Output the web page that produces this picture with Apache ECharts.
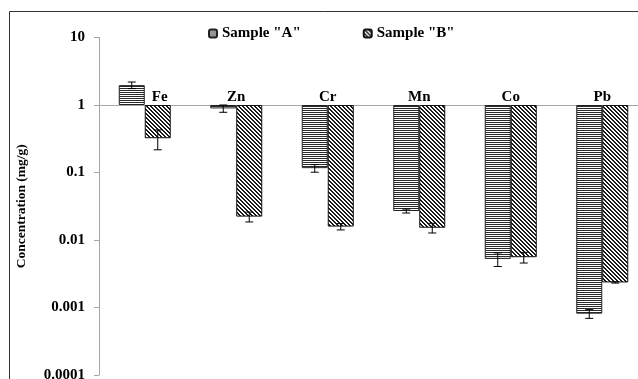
<!DOCTYPE html>
<html>
<head>
<meta charset="utf-8">
<script src="https://cdn.jsdelivr.net/npm/echarts@6/dist/echarts.min.js"></script>
<style>
html,body{margin:0;padding:0;background:#fff;}
#chart{width:638px;height:379px;}
</style>
</head>
<body>
<div id="chart"></div>
<script>
// ---- data ----
const categories = ['Fe', 'Zn', 'Cr', 'Mn', 'Co', 'Pb'];
const sampleA = [1.97, 0.89, 0.116, 0.0269, 0.00525, 0.00081];
const errA    = [0.22, 0.11, 0.015, 0.0018, 0.0012, 0.00012];
const sampleB = [0.322, 0.0222, 0.0158, 0.0152, 0.00556, 0.00235];
const errB    = [0.105, 0.0037, 0.0017, 0.0025, 0.001, 0.00005];
const yTickLabels = ['0.0001', '0.001', '0.01', '0.1', '1', '10'];
const seriesNames = ['Sample "A"', 'Sample "B"'];

// ---- patterns ----
function hPattern() {
  const c = document.createElement('canvas');
  c.width = 4; c.height = 2;
  const g = c.getContext('2d');
  g.fillStyle = '#ffffff'; g.fillRect(0, 0, 4, 2);
  g.fillStyle = '#2a2a2a'; g.fillRect(0, 0, 4, 1);
  return c;
}
function dPattern() {
  const c = document.createElement('canvas');
  c.width = 4; c.height = 4;
  const g = c.getContext('2d');
  g.fillStyle = '#ffffff'; g.fillRect(0, 0, 4, 4);
  g.fillStyle = '#1a1a1a';
  for (let i = 0; i < 4; i++) {
    g.fillRect(i, i, 1, 1);
    g.fillRect((i + 1) % 4, i, 1, 1);
  }
  return c;
}

const FONT = 'Liberation Serif';
const BAR_W = 26;
const chart = echarts.init(document.getElementById('chart'), null, {renderer: 'canvas'});

function errSeries(vals, errs, side) {
  return {
    type: 'custom',
    z: 10,
    silent: true,
    data: vals.map((v, i) => [i, v, errs[i]]),
    renderItem: function (params, api) {
      const i = api.value(0), v = api.value(1), e = api.value(2);
      const top = api.coord([i, v + e]);
      const bot = api.coord([i, v - e]);
      const x = top[0] + side * BAR_W / 2;
      const cap = 4;
      const st = {stroke: '#000', lineWidth: 1};
      return {
        type: 'group',
        children: [
          {type: 'line', shape: {x1: x, y1: top[1], x2: x, y2: bot[1]}, style: st},
          {type: 'line', shape: {x1: x - cap, y1: top[1], x2: x + cap, y2: top[1]}, style: st},
          {type: 'line', shape: {x1: x - cap, y1: bot[1], x2: x + cap, y2: bot[1]}, style: st}
        ]
      };
    }
  };
}

const option = {
  backgroundColor: '#fff',
  animation: false,
  graphic: [{
    type: 'rect', z: -1, silent: true,
    shape: {x: 9.5, y: 11.5, width: 700, height: 420},
    style: {fill: 'none', stroke: '#333', lineWidth: 1}
  }],
  legend: {
    left: 203, top: 21,
    itemWidth: 8, itemHeight: 8, itemGap: 62,
    textStyle: {fontFamily: FONT, fontWeight: 'bold', fontSize: 15, color: '#000'},
    data: seriesNames
  },
  grid: {left: 99, top: 37.5, bottom: 4, right: -10, containLabel: false, outerBoundsMode: 'none'},
  xAxis: {
    type: 'category',
    position: 'top',
    offset: -67.5,
    data: categories.map((c, i) => i === 0 ? {value: c, textStyle: {padding: [0, 0, 0, 30]}} : c),
    axisLine: {lineStyle: {color: '#a6a6a6', width: 1}},
    axisTick: {inside: true, length: 4, lineStyle: {color: '#a6a6a6'}},
    axisLabel: {interval: 0, margin: 0, fontFamily: FONT, fontWeight: 'bold', fontSize: 15, color: '#000'},
    splitLine: {show: false}
  },
  yAxis: {
    type: 'log',
    logBase: 10,
    min: 0.0001,
    max: 10,
    name: 'Concentration (mg/g)',
    nameLocation: 'middle',
    nameGap: 70,
    nameRotate: 90,
    nameTextStyle: {fontFamily: FONT, fontWeight: 'bold', fontSize: 13.5, color: '#000'},
    axisLine: {show: true, lineStyle: {color: '#a6a6a6', width: 1}},
    axisTick: {show: true, length: 5, lineStyle: {color: '#a6a6a6'}},
    axisLabel: {
      margin: 14,
      fontFamily: FONT, fontWeight: 'bold', fontSize: 15, color: '#000',
      formatter: v => yTickLabels[Math.round(Math.log10(v)) + 4]
    },
    splitLine: {show: false},
    minorTick: {show: false}
  },
  series: [
    {
      name: seriesNames[0], type: 'bar', data: sampleA,
      barWidth: BAR_W, barGap: '0%',
      itemStyle: {color: {image: hPattern(), repeat: 'repeat'}, borderColor: '#222', borderWidth: 1}
    },
    {
      name: seriesNames[1], type: 'bar', data: sampleB,
      barWidth: BAR_W, barGap: '0%',
      itemStyle: {color: {image: dPattern(), repeat: 'repeat'}, borderColor: '#111', borderWidth: 1}
    },
    errSeries(sampleA, errA, -1),
    errSeries(sampleB, errB, 1)
  ]
};
chart.setOption(option);
</script>
</body>
</html>
